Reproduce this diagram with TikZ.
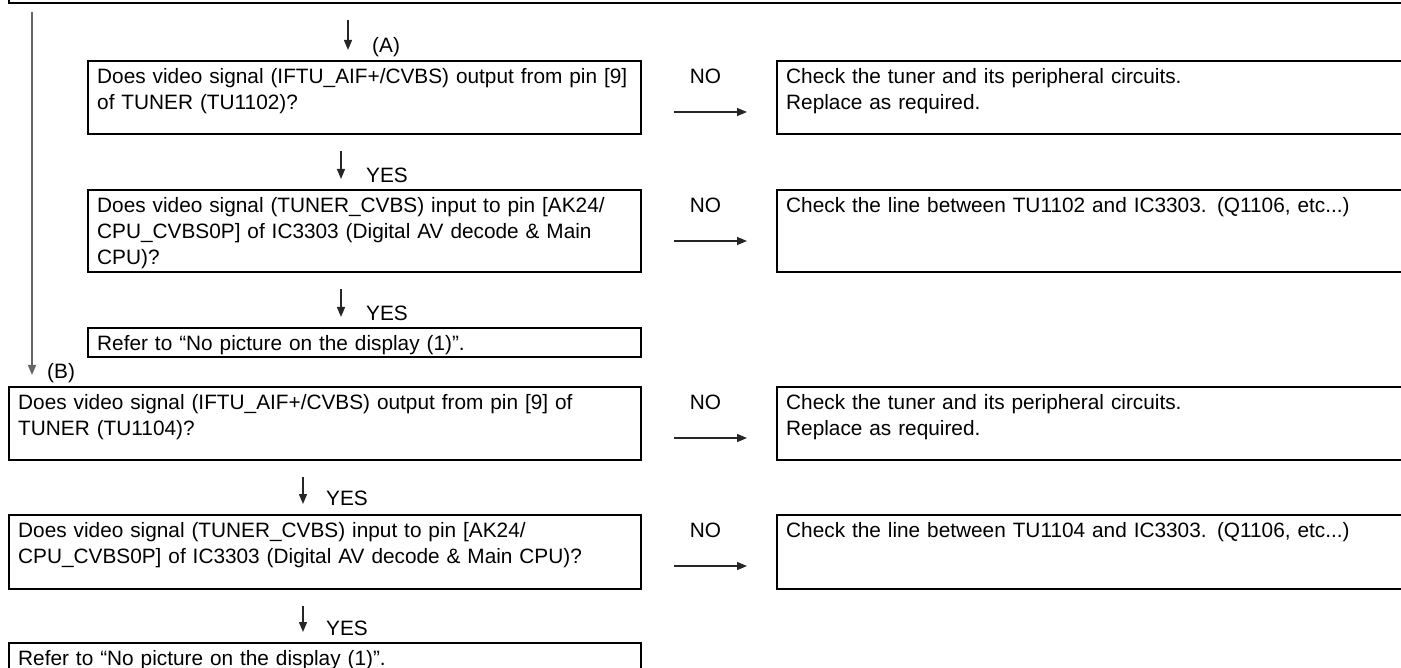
\documentclass[tikz,border=0pt]{standalone}
\usepackage{fontspec}
\setmainfont{Liberation Sans}
\usetikzlibrary{arrows.meta}

\begin{document}
\begin{tikzpicture}[x=1pt,y=-1pt,font=\fontsize{20.8pt}{26pt}\selectfont,
  chk/.style={draw,line width=2.4pt,anchor=north west,align=left,
    inner xsep=9pt,inner ysep=0pt,text height=22.5pt},
  flow/.style={draw=black!85,line width=1.3pt,-{Triangle[length=10pt,width=8pt]},
    shorten <=16pt,shorten >=10pt},
  nobranch/.style={flow,shorten <=32pt,shorten >=29pt},
  lbl/.style={inner sep=0pt}]
  \useasboundingbox (0,0) rectangle (1401,668);
  \clip (0,0) rectangle (1401,668);

  \node[draw,line width=2.4pt,anchor=south west,minimum width=1500pt,
    minimum height=60pt] (top) at (8,4) {};

  \node[chk,text width=535pt,text depth=50.5pt] (q1) at (87,60)
    {\mbox{Does video signal (IFTU\_AIF+/CVBS) output from pin [9]}\\of TUNER (TU1102)?};
  \node[chk,text width=535pt,text depth=59.5pt] (q2) at (87,189)
    {Does video signal (TUNER\_CVBS) input to pin [AK24/\\CPU\_CVBS0P] of IC3303 (Digital AV decode \& Main\\CPU)?};
  \node[chk,text width=535pt,text depth=6.5pt] (ref1) at (87,327)
    {Refer to “No picture on the display (1)”.};
  \node[chk,text width=614pt,text depth=50.5pt] (q3) at (8,386)
    {Does video signal (IFTU\_AIF+/CVBS) output from pin [9] of\\TUNER (TU1104)?};
  \node[chk,text width=614pt,text depth=51.5pt] (q4) at (8,514)
    {Does video signal (TUNER\_CVBS) input to pin [AK24/\\CPU\_CVBS0P] of IC3303 (Digital AV decode \& Main CPU)?};
  \node[chk,text width=614pt,text depth=6.5pt] (ref2) at (8,642)
    {Refer to “No picture on the display (1)”.};

  \node[chk,text width=626pt,text depth=50.5pt] (r1) at (776,60)
    {Check the tuner and its peripheral circuits.\\Replace as required.};
  \node[chk,text width=626pt,text depth=59.5pt] (r2) at (776,189)
    {Check the line between TU1102 and IC3303. (Q1106, etc...)};
  \node[chk,text width=626pt,text depth=50.5pt] (r3) at (776,386)
    {Check the tuner and its peripheral circuits.\\Replace as required.};
  \node[chk,text width=626pt,text depth=51.5pt] (r4) at (776,514)
    {Check the line between TU1104 and IC3303. (Q1106, etc...)};

  \coordinate (ca) at (348,0);
  \coordinate (cb) at (341,0);
  \coordinate (cc) at (303,0);
  \draw[flow] (top.south -| ca) -- (q1.north -| ca);
  \draw[flow] (q1.south -| cb) -- (q2.north -| cb);
  \draw[flow] (q2.south -| cb) -- (ref1.north -| cb);
  \draw[flow] (q3.south -| cc) -- (q4.north -| cc);
  \draw[flow] (q4.south -| cc) -- (ref2.north -| cc);
  \draw[flow,draw=black!60,line width=1.6pt,shorten <=8pt,shorten >=11pt]
    ([xshift=24pt]top.south west) -- ([xshift=24pt]q3.north west);

  \draw[nobranch] ([shift={(0,52)}]q1.north east) -- ([shift={(0,52)}]r1.north west);
  \draw[nobranch] ([shift={(0,52)}]q2.north east) -- ([shift={(0,52)}]r2.north west);
  \draw[nobranch] ([shift={(0,52)}]q3.north east) -- ([shift={(0,52)}]r3.north west);
  \draw[nobranch] ([shift={(0,52)}]q4.north east) -- ([shift={(0,52)}]r4.north west);
  \node[lbl] (no1) at ([shift={(63,16)}]q1.north east) {NO};
  \node[lbl] (no2) at ([shift={(63,16)}]q2.north east) {NO};
  \node[lbl] (no3) at ([shift={(63,16)}]q3.north east) {NO};
  \node[lbl] (no4) at ([shift={(63,16)}]q4.north east) {NO};

  \node[lbl,anchor=west] (la) at (372,47) {(A)};
  \node[lbl,anchor=west] (y1) at (366,175) {YES};
  \node[lbl,anchor=west] (y2) at (366,313) {YES};
  \node[lbl,anchor=west] (lb) at (47,373) {(B)};
  \node[lbl,anchor=west] (y3) at (326,498) {YES};
  \node[lbl,anchor=west] (y4) at (326,628) {YES};
\end{tikzpicture}
\end{document}
